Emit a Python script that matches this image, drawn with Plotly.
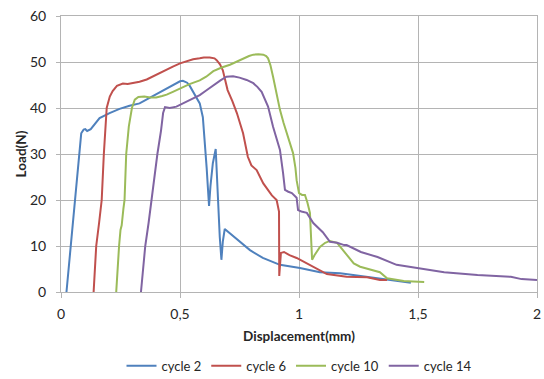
import plotly.graph_objects as go

# Load-displacement curves for four loading cycles
cycle2_x = [0.023, 0.03, 0.04, 0.057, 0.074, 0.085, 0.095, 0.102, 0.11, 0.125, 0.162, 0.204,
            0.246, 0.288, 0.33, 0.373, 0.41, 0.444, 0.475, 0.5, 0.512, 0.53, 0.541, 0.56,
            0.583, 0.596, 0.604, 0.612, 0.617, 0.622, 0.628, 0.638, 0.65, 0.659, 0.667,
            0.674, 0.68, 0.688, 0.709, 0.738, 0.752, 0.794, 0.848, 0.92, 1.004, 1.088,
            1.173, 1.257, 1.34, 1.41, 1.47]
cycle2_y = [0, 4, 10, 20, 30, 34.5, 35.3, 35.4, 35.0, 35.4, 37.8, 38.9,
            39.8, 40.5, 41.0, 42.2, 43.3, 44.3, 45.0, 45.8, 45.9, 45.5, 44.8, 43.2,
            41.0, 38.0, 33.0, 27.0, 22.8, 18.7, 23.0, 28.0, 31.1, 20.0, 12.0,
            7.0, 11.0, 13.7, 12.8, 11.7, 10.9, 9.1, 7.4, 5.9, 5.2, 4.3,
            4.1, 3.5, 3.0, 2.4, 2.0]

cycle6_x = [0.137, 0.148, 0.16, 0.171, 0.18, 0.192, 0.205, 0.217, 0.235, 0.26, 0.28, 0.303,
            0.33, 0.36, 0.39, 0.415, 0.44, 0.47, 0.5, 0.527, 0.555, 0.583, 0.6, 0.625,
            0.645, 0.654, 0.668, 0.68, 0.69, 0.7, 0.72, 0.739, 0.765, 0.785, 0.8, 0.822,
            0.85, 0.866, 0.886, 0.906, 0.912, 0.916, 0.917, 0.924, 0.937, 0.96, 0.99,
            1.06, 1.117, 1.2, 1.286, 1.34, 1.37]
cycle6_y = [0, 10, 15, 20, 30, 40, 42.5, 43.7, 44.8, 45.3, 45.2, 45.4,
            45.7, 46.2, 47.0, 47.7, 48.3, 49.0, 49.7, 50.2, 50.6, 50.8, 51.0, 51.0,
            50.8, 50.4, 49.5, 48.2, 46.0, 43.9, 41.5, 38.9, 34.5, 29.4, 27.5, 26.5,
            23.6, 22.5, 21.0, 20.0, 18.5, 17.5, 3.5, 8.5, 8.7, 8.0, 7.4,
            5.5, 3.9, 3.3, 3.2, 2.6, 2.6]

cycle10_x = [0.232, 0.237, 0.244, 0.25, 0.255, 0.262, 0.267, 0.274, 0.285, 0.298, 0.31,
             0.325, 0.35, 0.375, 0.4, 0.425, 0.444, 0.47, 0.5, 0.54, 0.583, 0.61, 0.64,
             0.675, 0.71, 0.74, 0.766, 0.79, 0.808, 0.83, 0.85, 0.862, 0.87, 0.88, 0.891,
             0.905, 0.92, 0.935, 0.949, 0.962, 0.975, 0.985, 0.99, 1.0, 1.013, 1.025,
             1.035, 1.046, 1.052, 1.055, 1.065, 1.088, 1.11, 1.13, 1.16, 1.2, 1.23,
             1.257, 1.3, 1.34, 1.37, 1.44, 1.48, 1.526]
cycle10_y = [0, 5, 10, 13.5, 14.5, 18, 20, 30, 36, 40, 41.8,
             42.4, 42.5, 42.3, 42.3, 42.6, 42.9, 43.5, 44.3, 45.2, 46.0, 46.8, 48.0,
             48.8, 49.4, 50.1, 50.8, 51.3, 51.6, 51.7, 51.6, 51.3, 50.8, 49.3, 46.8,
             43.0, 39.6, 36.8, 34.5, 32.3, 30.2, 27.0, 24.3, 21.5, 21.1, 21.1,
             19.5, 17.2, 12.0, 7.0, 8.0, 9.8, 10.7, 11.1, 10.7, 8.0, 6.2,
             5.5, 4.8, 4.3, 3.0, 2.4, 2.3, 2.2]

cycle14_x = [0.336, 0.345, 0.354, 0.368, 0.38, 0.405, 0.42, 0.429, 0.437, 0.457, 0.485,
             0.5, 0.527, 0.555, 0.583, 0.61, 0.64, 0.67, 0.695, 0.723, 0.75, 0.78, 0.808,
             0.825, 0.843, 0.857, 0.87, 0.891, 0.905, 0.92, 0.933, 0.941, 0.955, 0.97,
             0.99, 0.996, 1.01, 1.033, 1.06, 1.1, 1.13, 1.16, 1.19, 1.2, 1.26, 1.33,
             1.41, 1.5, 1.61, 1.75, 1.89, 1.935, 2.0]
cycle14_y = [0, 5, 10, 15, 20, 30, 35, 38.9, 40.2, 40.0, 40.3,
             40.7, 41.3, 42.0, 42.8, 43.8, 45.0, 46.0, 46.8, 46.9, 46.6, 46.1, 45.4,
             44.6, 43.5, 42.0, 40.3, 35.9, 33.5, 30.9, 25.9, 22.2, 21.8, 21.5,
             20.5, 17.8, 17.5, 17.2, 15.0, 13.0, 10.9, 10.7, 10.2, 10.2, 8.7, 7.6,
             5.9, 5.2, 4.3, 3.7, 3.3, 2.8, 2.6]

series_names = ["cycle 2", "cycle 6", "cycle 10", "cycle 14"]
series_colors = ["#4F81BD", "#C0504D", "#9BBB59", "#8064A2"]

x_tick_vals = [0, 0.5, 1, 1.5, 2]
x_tick_text = ["0", "0,5", "1", "1,5", "2"]
y_tick_vals = [0, 10, 20, 30, 40, 50, 60]

FONT = "Lato"
TEXT = "#262626"
GRID = "#b4b4b4"

fig = go.Figure()
for name, color, xs, ys in zip(
    series_names,
    series_colors,
    [cycle2_x, cycle6_x, cycle10_x, cycle14_x],
    [cycle2_y, cycle6_y, cycle10_y, cycle14_y],
):
    fig.add_trace(go.Scatter(x=xs, y=ys, mode="lines", name=name,
                             line=dict(color=color, width=2)))

fig.update_layout(
    width=544, height=379,
    margin=dict(l=61, r=7, t=16, b=87),
    paper_bgcolor="white", plot_bgcolor="white",
    font=dict(family=FONT, size=14, color=TEXT),
    showlegend=True,
    legend=dict(orientation="h", x=0.5, xanchor="center",
                yref="container", y=0.035, yanchor="middle",
                font=dict(family=FONT, size=13, color=TEXT),
                itemwidth=30, tracegroupgap=0),
    xaxis=dict(
        range=[0, 2], tickvals=x_tick_vals, ticktext=x_tick_text,
        showgrid=True, gridcolor=GRID, gridwidth=1,
        showline=True, linecolor=GRID, linewidth=1, mirror=True,
        ticks="outside", ticklen=5, tickcolor=GRID,
        ticklabelstandoff=4, zeroline=False, automargin=False,
        tickfont=dict(family=FONT, size=14, color=TEXT),
        title=dict(text="<b>Displacement(mm)</b>", standoff=10,
                   font=dict(family=FONT, size=13.5, color=TEXT)),
    ),
    yaxis=dict(
        range=[0, 60], tickvals=y_tick_vals,
        showgrid=True, gridcolor=GRID, gridwidth=1,
        showline=True, linecolor=GRID, linewidth=1, mirror=True,
        ticks="outside", ticklen=4, tickcolor=GRID,
        ticklabelstandoff=7, zeroline=False, automargin=False,
        tickfont=dict(family=FONT, size=14, color=TEXT),
        title=dict(text="<b>Load(N)</b>", standoff=0,
                   font=dict(family=FONT, size=13.5, color=TEXT)),
    ),
)

fig.write_html("out.html")
